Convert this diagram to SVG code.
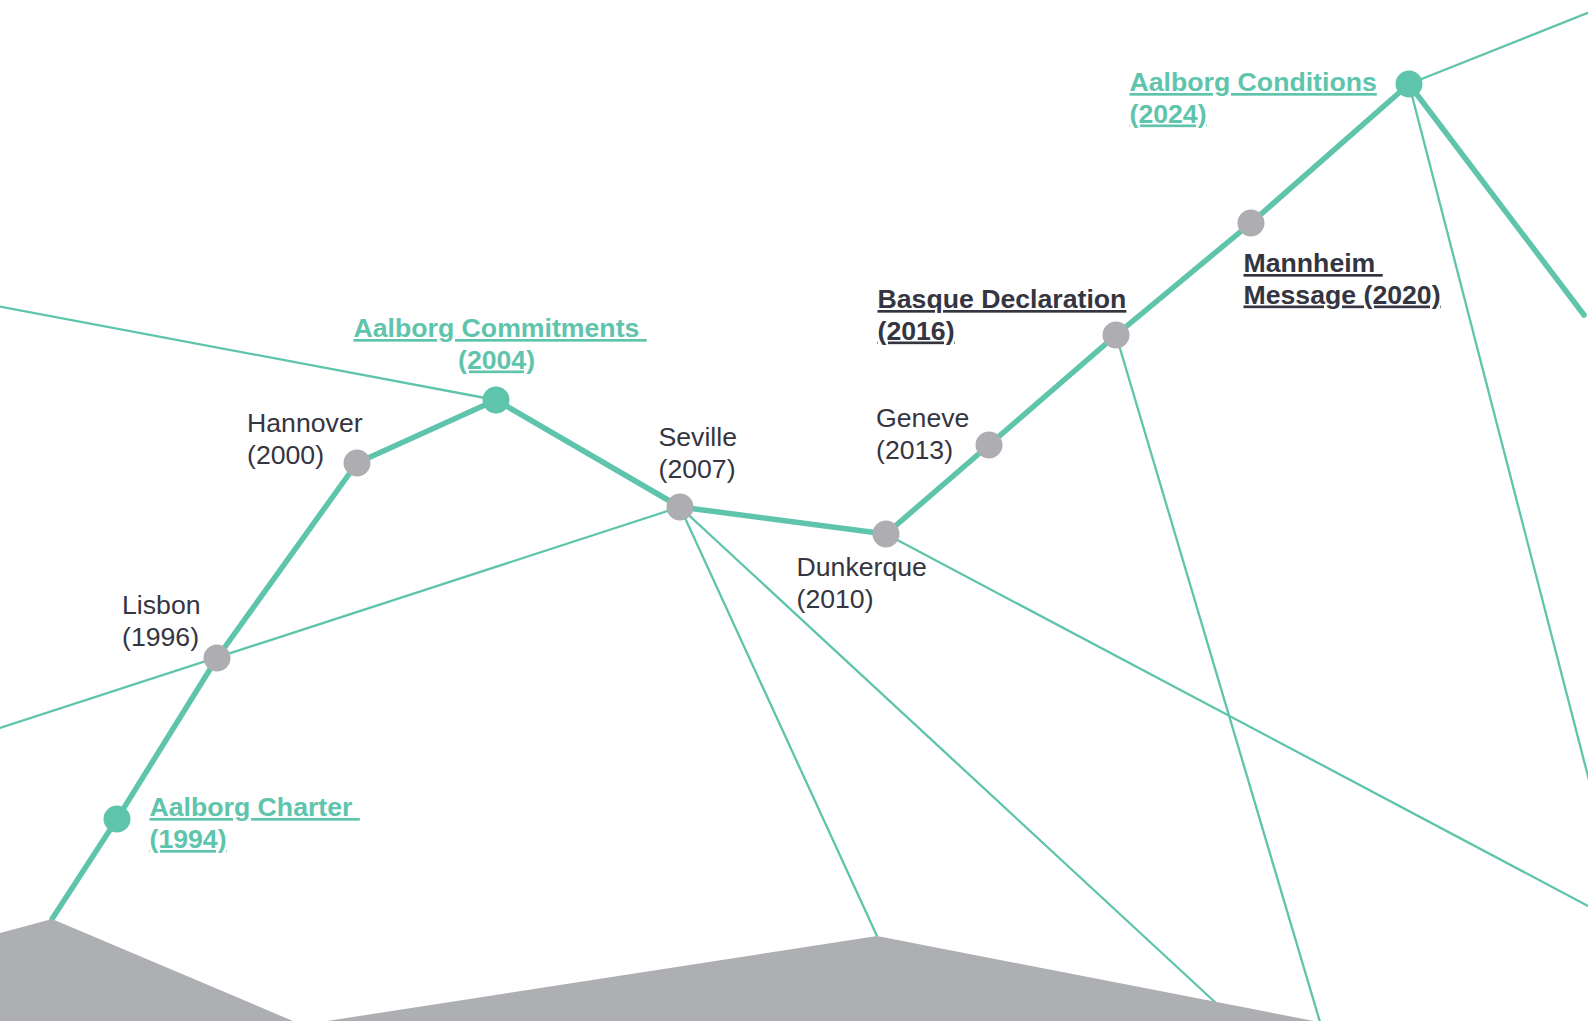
<svg xmlns="http://www.w3.org/2000/svg" width="1588" height="1021" viewBox="0 0 1588 1021">
<style>
  .thin { fill: none; stroke: #5fc4ac; stroke-width: 2.3; stroke-linecap: round; }
  .thick { fill: none; stroke: #5fc4ac; stroke-width: 5.5; stroke-linecap: round; stroke-linejoin: round; }
  .key { fill: #5fc4ac; }
  .minor { fill: #aeaeb2; }
  .ground { fill: #aeafb2; }
  text { font-family: "Liberation Sans", Arial, sans-serif; font-size: 26.67px; }
  .lbl { fill: #343541; }
  .bold { font-weight: bold; text-decoration: underline; text-decoration-skip-ink: none; }
  .green { fill: #5fc4ac; }
</style>
<rect x="0" y="0" width="1588" height="1021" fill="#ffffff"/>
<g id="connectors">
  <line class="thin" x1="0" y1="306.6" x2="496" y2="400"/>
  <line class="thin" x1="0" y1="728" x2="680" y2="507"/>
  <line class="thin" x1="680" y1="507" x2="877" y2="936"/>
  <line class="thin" x1="680" y1="507" x2="1230" y2="1016"/>
  <line class="thin" x1="886" y1="534" x2="1590" y2="907"/>
  <line class="thin" x1="1116" y1="335" x2="1320" y2="1022"/>
  <line class="thin" x1="1409" y1="84" x2="1590" y2="784"/>
  <line class="thin" x1="1409" y1="84" x2="1590" y2="12"/>
  <polyline class="thick" points="52,919 117,819 217,658 357,463 496,400 680,507 886,534 989,445 1116,335 1251,223 1409,84 1584,315"/>
</g>
<g id="ground">
  <path class="ground" d="M0,933 L52,919 L293,1021 L0,1021 Z"/>
  <path class="ground" d="M327,1021 L877,936 L1314,1021 Z"/>
</g>
<g id="node-charter">
  <circle class="key" cx="117" cy="819" r="13.5"/>
  <text class="bold green" xml:space="preserve"><tspan x="149.5" y="816">Aalborg Charter </tspan><tspan x="149.5" y="848">(1994)</tspan></text>
</g>
<g id="node-lisbon">
  <circle class="minor" cx="217" cy="658" r="13.5"/>
  <text class="lbl"><tspan x="122" y="614">Lisbon</tspan><tspan x="122" y="646">(1996)</tspan></text>
</g>
<g id="node-hannover">
  <circle class="minor" cx="357" cy="463" r="13.5"/>
  <text class="lbl"><tspan x="247" y="432">Hannover</tspan><tspan x="247" y="464">(2000)</tspan></text>
</g>
<g id="node-commitments">
  <circle class="key" cx="496" cy="400" r="13.5"/>
  <text class="bold green" xml:space="preserve"><tspan x="353.5" y="337">Aalborg Commitments </tspan><tspan x="458" y="368.5">(2004)</tspan></text>
</g>
<g id="node-seville">
  <circle class="minor" cx="680" cy="507" r="13.5"/>
  <text class="lbl"><tspan x="658.5" y="446">Seville</tspan><tspan x="658.5" y="478">(2007)</tspan></text>
</g>
<g id="node-dunkerque">
  <circle class="minor" cx="886" cy="534" r="13.5"/>
  <text class="lbl"><tspan x="796.5" y="576">Dunkerque</tspan><tspan x="796.5" y="608">(2010)</tspan></text>
</g>
<g id="node-geneve">
  <circle class="minor" cx="989" cy="445" r="13.5"/>
  <text class="lbl"><tspan x="876" y="427">Geneve</tspan><tspan x="876" y="459">(2013)</tspan></text>
</g>
<g id="node-basque">
  <circle class="minor" cx="1116" cy="335" r="13.5"/>
  <text class="bold lbl"><tspan x="877.5" y="308">Basque Declaration</tspan><tspan x="877.5" y="339.5">(2016)</tspan></text>
</g>
<g id="node-mannheim">
  <circle class="minor" cx="1251" cy="223" r="13.5"/>
  <text class="bold lbl" xml:space="preserve"><tspan x="1243.5" y="272">Mannheim </tspan><tspan x="1243.5" y="303.5">Message (2020)</tspan></text>
</g>
<g id="node-conditions">
  <circle class="key" cx="1409" cy="84" r="13.5"/>
  <text class="bold green"><tspan x="1129.5" y="91">Aalborg Conditions</tspan><tspan x="1129.5" y="122.5">(2024)</tspan></text>
</g>
</svg>
